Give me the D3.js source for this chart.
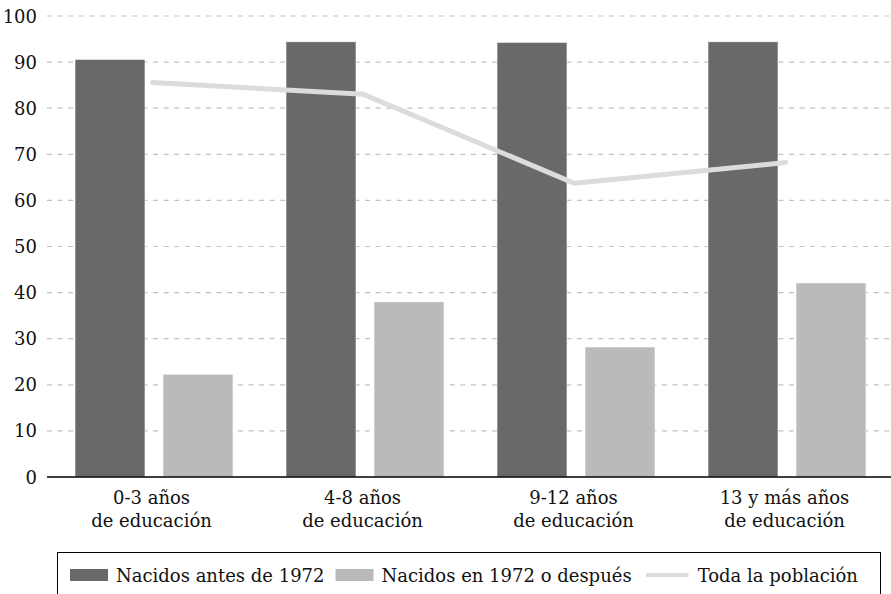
<!DOCTYPE html>
<html>
<head>
<meta charset="utf-8">
<script src="https://cdn.jsdelivr.net/npm/d3@7"></script>
<style>
  body { margin: 0; background: #fff; }
  text { font-family: "DejaVu Serif", serif; fill: #111; }
</style>
</head>
<body>
<div id="chart"></div>
<script>
// data
var categories = [["0-3 años", "de educación"], ["4-8 años", "de educación"], ["9-12 años", "de educación"], ["13 y más años", "de educación"]];
var seriesNames = ["Nacidos antes de 1972", "Nacidos en 1972 o después"];
var antes = [90.6, 94.4, 94.3, 94.4];
var despues = [22.3, 38.0, 28.2, 42.1];
var toda = [85.6, 83.0, 63.7, 68.2];
var lineName = "Toda la población";
var yTicks = [0, 10, 20, 30, 40, 50, 60, 70, 80, 90, 100];

var width = 891,
    height = 594;

var colors = ["#696969", "#bababa"],
    lineColor = "#dcdcdc";

var svg = d3.select("#chart").append("svg")
    .attr("width", width)
    .attr("height", height);

var x = d3.scaleBand()
    .domain(d3.range(categories.length))
    .range([47, 891]);

var xs = d3.scaleBand()
    .domain(d3.range(seriesNames.length))
    .range([28, 186])
    .paddingInner(18 / 88);

var y = d3.scaleLinear()
    .domain([0, 100])
    .range([477, 16]);

// gridlines
svg.append("g").selectAll("line")
    .data(yTicks.filter(d => d > 0))
  .enter().append("line")
    .attr("x1", 47).attr("x2", width)
    .attr("y1", d => y(d)).attr("y2", d => y(d))
    .attr("stroke", "#c2c2c2")
    .attr("stroke-width", 1.2)
    .attr("stroke-dasharray", "5,5.6");

// y tick labels
svg.append("g").selectAll("text")
    .data(yTicks)
  .enter().append("text")
    .attr("x", 37)
    .attr("y", d => y(d) + 6.5)
    .attr("text-anchor", "end")
    .style("font-size", "18px")
    .text(d => d);

// bars
var rows = categories.map((c, i) => [antes[i], despues[i]]);
svg.append("g").selectAll("g")
    .data(rows)
  .enter().append("g")
    .attr("transform", (d, i) => "translate(" + x(i) + ",0)")
  .selectAll("rect")
    .data(d => d)
  .enter().append("rect")
    .attr("x", (d, j) => xs(j))
    .attr("width", xs.bandwidth())
    .attr("y", d => y(d))
    .attr("height", d => y(0) - y(d))
    .attr("fill", (d, j) => colors[j])
    .attr("stroke", "#fff")
    .attr("stroke-width", 0.6);

// line
var line = d3.line()
    .x((d, i) => x(i) + x.bandwidth() / 2)
    .y(d => y(d));

svg.append("path")
    .datum(toda)
    .attr("d", line)
    .attr("fill", "none")
    .attr("stroke", lineColor)
    .attr("stroke-width", 5)
    .attr("stroke-linecap", "round")
    .attr("stroke-linejoin", "round");

// x axis baseline
svg.append("line")
    .attr("x1", 47).attr("x2", width)
    .attr("y1", y(0)).attr("y2", y(0))
    .attr("stroke", "#000")
    .attr("stroke-width", 1.6);

// category labels
var lab = svg.append("g").selectAll("text")
    .data(categories)
  .enter().append("text")
    .attr("text-anchor", "middle")
    .style("font-size", "18px");
lab.selectAll("tspan")
    .data((d, i) => d.map(t => ({t: t, i: i})))
  .enter().append("tspan")
    .attr("x", d => x(d.i) + x.bandwidth() / 2 - 1)
    .attr("y", (d, k) => 504 + k * 23)
    .text(d => d.t);

// legend
var legend = svg.append("g");
legend.append("rect")
    .attr("x", 57.5).attr("y", 552.5)
    .attr("width", 823).attr("height", 60)
    .attr("fill", "none")
    .attr("stroke", "#000")
    .attr("stroke-width", 1);

var items = [
  {name: seriesNames[0], type: "bar", color: colors[0]},
  {name: seriesNames[1], type: "bar", color: colors[1]},
  {name: lineName, type: "line", color: lineColor}
];

var cx = 70;
items.forEach(function(d, i) {
  var g = legend.append("g").attr("transform", "translate(" + cx + ",575)");
  if (d.type === "bar") {
    g.append("rect")
        .attr("x", 0).attr("y", -6)
        .attr("width", 38).attr("height", 12)
        .attr("fill", d.color);
  } else {
    g.append("line")
        .attr("x1", 1).attr("x2", 40)
        .attr("y1", 0).attr("y2", 0)
        .attr("stroke", d.color)
        .attr("stroke-width", 4)
        .attr("stroke-linecap", "round");
  }
  var tx = d.type === "line" ? 51 : 46;
  var t = g.append("text")
      .attr("x", tx)
      .attr("y", 6.5)
      .style("font-size", "18px")
      .text(d.name);
  var next = items[i + 1];
  cx += tx + t.node().getComputedTextLength() + (next && next.type === "line" ? 15 : 11);
});
</script>
</body>
</html>
